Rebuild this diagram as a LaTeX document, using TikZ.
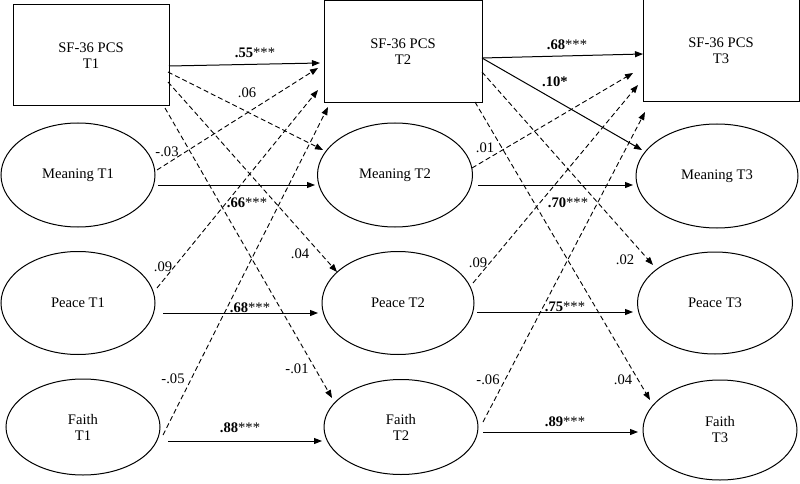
\documentclass[tikz,border=0pt]{standalone}
\usepackage{fontspec}
\setmainfont{Liberation Serif}
\usetikzlibrary{shapes.geometric,arrows.meta,calc}
\begin{document}
\begin{tikzpicture}[x=1pt,y=-1pt,
  font=\fontsize{14.6}{16}\selectfont,
  boxnode/.style={draw,line width=1pt,rectangle,inner sep=0pt,align=center},
  ellnode/.style={draw,line width=1pt,ellipse,inner sep=0pt,align=center},
  solidarrow/.style={line width=1pt,-{Triangle[length=8pt,width=6pt]}},
  dasharrow/.style={line width=0.9pt,dash pattern=on 5pt off 3pt,-{Triangle[length=8pt,width=6pt]}},
  lab/.style={inner sep=0pt,anchor=center}]
\fill[white] (0,0) rectangle (800,484);
\useasboundingbox (0,0) rectangle (800,484);
% boxes
\node[boxnode,minimum width=156pt,minimum height=101pt] (b1) at (91,55.5) {SF-36 PCS\\T1};
\node[boxnode,minimum width=158pt,minimum height=102pt] (b2) at (403,52) {SF-36 PCS\\T2};
\node[boxnode,minimum width=156pt,minimum height=102pt] (b3) at (721,51) {SF-36 PCS\\T3};
% ellipses
\node[ellnode,minimum width=154pt,minimum height=104pt] (m1) at (78,175) {Meaning T1};
\node[ellnode,minimum width=154pt,minimum height=103pt] (p1) at (78,303) {Peace T1};
\node[ellnode,minimum width=154pt,minimum height=96pt] (f1) at (83,427) {Faith\\T1};
\node[ellnode,minimum width=155pt,minimum height=104pt] (m2) at (395,175) {Meaning T2};
\node[ellnode,minimum width=152pt,minimum height=103pt] (p2) at (398,303) {Peace T2};
\node[ellnode,minimum width=154pt,minimum height=95pt] (f2) at (401,427) {Faith\\T2};
\node[ellnode,minimum width=162pt,minimum height=104pt] (m3) at (717,176) {Meaning T3};
\node[ellnode,minimum width=155pt,minimum height=102pt] (p3) at (715,303) {Peace T3};
\node[ellnode,minimum width=154pt,minimum height=100pt] (f3) at (720,430) {Faith\\T3};
% solid paths
\draw[solidarrow] ($(b1)+(78,10.5)$) -- ($(b2)+(-83,11)$);
\draw[solidarrow] ($(m1)+(80,10)$) -- ($(m2)+(-80,10)$);
\draw[solidarrow] ($(p1)+(85,10)$) -- ($(p2)+(-80,10)$);
\draw[solidarrow] ($(f1)+(85,14)$) -- ($(f2)+(-79,14)$);
\draw[solidarrow] ($(b2)+(79,6)$) -- ($(b3)+(-78,3)$);
\draw[solidarrow] ($(b2)+(79,6)$) -- ($(m3)+(-75,-26)$);
\draw[solidarrow] ($(m2)+(83,10)$) -- ($(m3)+(-84,9)$);
\draw[solidarrow] ($(p2)+(79,9)$) -- ($(p3)+(-82,9)$);
\draw[solidarrow] ($(f2)+(82,5)$) -- ($(f3)+(-82,2)$);
% dashed paths
\draw[dasharrow] ($(b1)+(77,16.5)$) -- ($(m2)+(-72,-25)$);
\draw[dasharrow] ($(b1)+(77,26.5)$) -- ($(p2)+(-61,-31)$);
\draw[dasharrow] ($(b1)+(74,52.5)$) -- ($(f2)+(-69,-29)$);
\draw[dasharrow] ($(m1)+(79,-5)$) -- ($(b2)+(-85,16)$);
\draw[dasharrow] ($(p1)+(79,-15)$) -- ($(b2)+(-85,38)$);
\draw[dasharrow] ($(f1)+(80,8)$) -- ($(b2)+(-75,55)$);
\draw[dasharrow] ($(m2)+(77,-7)$) -- ($(b3)+(-88,22)$);
\draw[dasharrow] ($(p2)+(75,-20)$) -- ($(b3)+(-83,34)$);
\draw[dasharrow] ($(f2)+(82,-5)$) -- ($(b3)+(-76,61)$);
\draw[dasharrow] ($(b2)+(79,20)$) -- ($(p3)+(-62,-38)$);
\draw[dasharrow] ($(b2)+(72,50)$) -- ($(f3)+(-70,-30)$);
% labels
\node[lab] (l1) at (255,53) {\textbf{.55}***};
\node[lab] (l2) at (247,93) {.06};
\node[lab] (l3) at (167,152) {-.03};
\node[lab] (l4) at (247,203) {\textbf{.66}***};
\node[lab] (l5) at (163,267) {.09};
\node[lab] (l6) at (300,254) {.04};
\node[lab] (l7) at (250,308) {\textbf{.68}***};
\node[lab] (l8) at (173,379) {-.05};
\node[lab] (l9) at (297,369) {-.01};
\node[lab] (l10) at (240,428) {\textbf{.88}***};
\node[lab] (l11) at (567,45) {\textbf{.68}***};
\node[lab] (l12) at (555,82) {\textbf{.10*}};
\node[lab] (l13) at (485,148) {.01};
\node[lab] (l14) at (568,203) {\textbf{.70}***};
\node[lab] (l15) at (478,263) {.09};
\node[lab] (l16) at (625,260) {.02};
\node[lab] (l17) at (565,307) {\textbf{.75}***};
\node[lab] (l18) at (488,380) {-.06};
\node[lab] (l19) at (623,380) {.04};
\node[lab] (l20) at (565,422) {\textbf{.89}***};
\end{tikzpicture}
\end{document}
